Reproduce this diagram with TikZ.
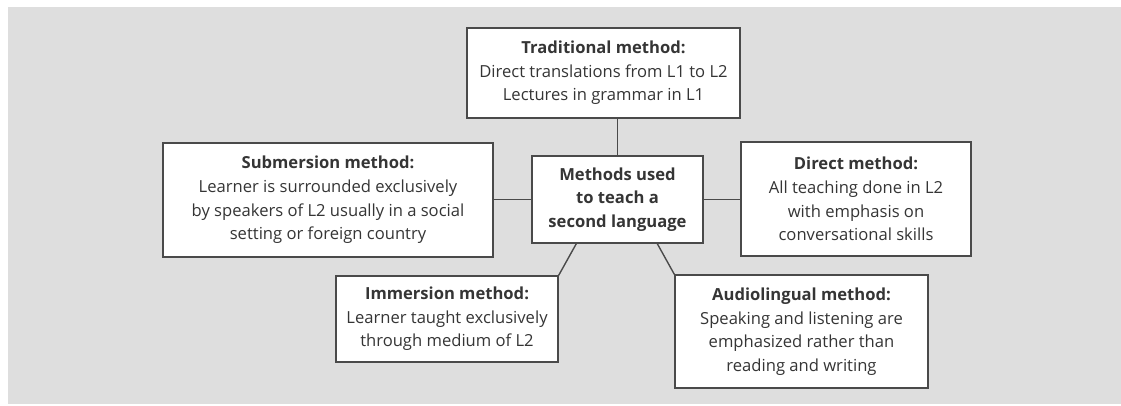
\documentclass[tikz,border=0pt]{standalone}
\usepackage{fontspec}
\setmainfont{Open Sans}
\usetikzlibrary{calc}
\definecolor{bg}{HTML}{DEDEDE}
\definecolor{ln}{HTML}{4A4A4A}
\definecolor{tx}{HTML}{353535}
\tikzset{
  box/.style={draw=ln, line width=1.4pt, fill=white, align=center, text=tx,
    inner sep=0pt, font=\fontsize{16.6}{23.6}\selectfont},
  conn/.style={draw=ln, line width=1.4pt}
}
\begin{document}
\begin{tikzpicture}[x=1pt,y=-1pt]
\useasboundingbox (0,0) rectangle (1121,406);
\fill[bg] (8,7) rectangle (1121,404);
\node[box, minimum width=273pt, minimum height=90pt] (trad) at (603.5,73)
  {\textbf{Traditional method:}\\Direct translations from L1 to L2\\Lectures in grammar in L1};
\node[box, minimum width=171pt, minimum height=87pt] (center) at (617.5,199.5)
  {\textbf{Methods used}\\\textbf{to teach a}\\\textbf{second language}};
\node[box, minimum width=330pt, minimum height=114pt] (sub) at (328,200)
  {\textbf{Submersion method:}\\Learner is surrounded exclusively\\by speakers of L2 usually in a social\\setting or foreign country};
\node[box, minimum width=230pt, minimum height=114pt] (direct) at (856,199)
  {\textbf{Direct method:}\\All teaching done in L2\\with emphasis on\\conversational skills};
\node[box, minimum width=222pt, minimum height=86pt] (imm) at (447,319)
  {\textbf{Immersion method:}\\Learner taught exclusively\\through medium of L2};
\node[box, minimum width=253pt, minimum height=113pt] (audio) at (801.5,331.5)
  {\textbf{Audiolingual method:}\\Speaking and listening are\\emphasized rather than\\reading and writing};
\draw[conn] (center.north) -- (center.north |- trad.south);
\draw[conn] (sub.east |- center.west) -- (center.west);
\draw[conn] (center.east) -- (direct.west |- center.east);
\draw[conn] ($(center.south west)+(45,0)$) -- (imm.north east);
\draw[conn] ($(center.south west)+(126,0)$) -- (audio.north west);
\end{tikzpicture}
\end{document}
